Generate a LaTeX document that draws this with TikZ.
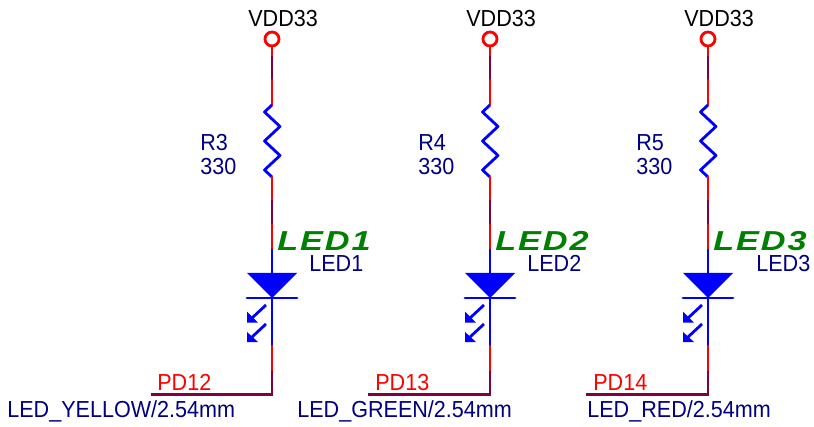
\documentclass[tikz,border=0pt]{standalone}
\usepackage{fontspec}
\setmainfont[FakeStretch=.93]{Liberation Sans}
\newfontfamily\ledfont[FakeStretch=1.25,LetterSpace=7]{Liberation Sans}
\usepackage{tkz-euclide}

\definecolor{netred}{HTML}{FF0000}
\definecolor{netpurple}{HTML}{800040}
\definecolor{partblue}{HTML}{0000FF}
\definecolor{textnavy}{HTML}{000080}
\definecolor{tagGreen}{HTML}{008000}

\tikzset{
  wirered/.style={line width=1.6pt,color=netred},
  wirepurple/.style={line width=1.6pt,color=netpurple},
  partline/.style={line width=1.6pt,color=partblue},
  txt/.style={inner sep=0pt,anchor=base west,font=\fontsize{13.2}{15}\selectfont},
  navytxt/.style={txt,text=textnavy},
  redtxt/.style={txt,text=netred},
  blacktxt/.style={txt,text=black},
  ledtxt/.style={inner sep=0pt,anchor=base west,text=tagGreen,font=\ledfont\fontsize{15.6}{16}\selectfont\bfseries\itshape}
}

\begin{document}
\begin{tikzpicture}[x=.02cm,y=.02cm]
\useasboundingbox (0,0) rectangle (814,426);

% first branch
\tkzDefPoints{272/387/aPin,272/380/aA,272/369/aB,272/346/aC,272/321/aD,264.5/314/aZa,280/299.5/aZb,264.5/285/aZc,280/270.5/aZd,264.5/256/aZe,272/249/aE,272/225/aF,272/201/aG,272/176/aH,272/153/aI,247/153/aL,297/153/aR,272/128/aK,247/128/aM,297/128/aN,272/80/aO,272/55/aP,272/31.5/aQ,151/31.5/aS}

\draw[wirered] (aPin) circle (7);
\tkzDrawSegment[wirered](aA,aB)
\tkzDrawSegment[wirepurple](aB,aC)
\tkzDrawSegment[wirered](aC,aD)
\draw[partline,line join=round] (aD) -- (aZa) -- (aZb) -- (aZc) -- (aZd) -- (aZe) -- (aE);
\tkzDrawSegment[wirered](aE,aF)
\tkzDrawSegment[wirepurple](aF,aG)
\tkzDrawSegment[wirered](aG,aH)
\tkzDrawSegment[partline](aH,aI)
\fill[partblue] (aL) -- (aR) -- (aK) -- cycle;
\tkzDrawSegment[partline](aM,aN)
\tkzDrawSegment[partline](aK,aO)
\draw[partline] (266,121) -- (252,108);
\fill[partblue] (247,114.3) -- (247,103.3) -- (258,103.3) -- cycle;
\draw[partline] (266,102) -- (252,89);
\fill[partblue] (247,94) -- (247,84) -- (258,84) -- cycle;
\tkzDrawSegment[wirered](aO,aP)
\draw[wirepurple] (aP) -- (aQ) -- (aS);

\node[blacktxt] (vddA) at (248,399) {VDD33};
\node[navytxt] (refA) at (200,275) {R3};
\node[navytxt] (valA) at (200,251) {330};
\node[ledtxt] (tagA) at (277,175) {LED1};
\node[navytxt] (partA) at (309,154) {LED1};
\node[redtxt] (netA) at (157,36) {PD12};
\node[navytxt] (nameA) at (7,9) {LED\_YELLOW/2.54mm};

% second branch
\tkzDefPoints{490/387/bPin,490/380/bA,490/369/bB,490/346/bC,490/321/bD,482.5/314/bZa,498/299.5/bZb,482.5/285/bZc,498/270.5/bZd,482.5/256/bZe,490/249/bE,490/225/bF,490/201/bG,490/176/bH,490/153/bI,465/153/bL,515/153/bR,490/128/bK,465/128/bM,515/128/bN,490/80/bO,490/55/bP,490/31.5/bQ,368/31.5/bS}

\draw[wirered] (bPin) circle (7);
\tkzDrawSegment[wirered](bA,bB)
\tkzDrawSegment[wirepurple](bB,bC)
\tkzDrawSegment[wirered](bC,bD)
\draw[partline,line join=round] (bD) -- (bZa) -- (bZb) -- (bZc) -- (bZd) -- (bZe) -- (bE);
\tkzDrawSegment[wirered](bE,bF)
\tkzDrawSegment[wirepurple](bF,bG)
\tkzDrawSegment[wirered](bG,bH)
\tkzDrawSegment[partline](bH,bI)
\fill[partblue] (bL) -- (bR) -- (bK) -- cycle;
\tkzDrawSegment[partline](bM,bN)
\tkzDrawSegment[partline](bK,bO)
\draw[partline] (484,121) -- (470,108);
\fill[partblue] (465,114.3) -- (465,103.3) -- (476,103.3) -- cycle;
\draw[partline] (484,102) -- (470,89);
\fill[partblue] (465,94) -- (465,84) -- (476,84) -- cycle;
\tkzDrawSegment[wirered](bO,bP)
\draw[wirepurple] (bP) -- (bQ) -- (bS);

\node[blacktxt] (vddB) at (466,399) {VDD33};
\node[navytxt] (refB) at (418,275) {R4};
\node[navytxt] (valB) at (418,251) {330};
\node[ledtxt] (tagB) at (495,175) {LED2};
\node[navytxt] (partB) at (527,154) {LED2};
\node[redtxt] (netB) at (375,36) {PD13};
\node[navytxt] (nameB) at (297,9) {LED\_GREEN/2.54mm};

% third branch
\tkzDefPoints{708/387/cPin,708/380/cA,708/369/cB,708/346/cC,708/321/cD,700.5/314/cZa,716/299.5/cZb,700.5/285/cZc,716/270.5/cZd,700.5/256/cZe,708/249/cE,708/225/cF,708/201/cG,708/176/cH,708/153/cI,683/153/cL,733/153/cR,708/128/cK,683/128/cM,733/128/cN,708/80/cO,708/55/cP,708/31.5/cQ,586/31.5/cS}

\draw[wirered] (cPin) circle (7);
\tkzDrawSegment[wirered](cA,cB)
\tkzDrawSegment[wirepurple](cB,cC)
\tkzDrawSegment[wirered](cC,cD)
\draw[partline,line join=round] (cD) -- (cZa) -- (cZb) -- (cZc) -- (cZd) -- (cZe) -- (cE);
\tkzDrawSegment[wirered](cE,cF)
\tkzDrawSegment[wirepurple](cF,cG)
\tkzDrawSegment[wirered](cG,cH)
\tkzDrawSegment[partline](cH,cI)
\fill[partblue] (cL) -- (cR) -- (cK) -- cycle;
\tkzDrawSegment[partline](cM,cN)
\tkzDrawSegment[partline](cK,cO)
\draw[partline] (702,121) -- (688,108);
\fill[partblue] (683,114.3) -- (683,103.3) -- (694,103.3) -- cycle;
\draw[partline] (702,102) -- (688,89);
\fill[partblue] (683,94) -- (683,84) -- (694,84) -- cycle;
\tkzDrawSegment[wirered](cO,cP)
\draw[wirepurple] (cP) -- (cQ) -- (cS);

\node[blacktxt] (vddC) at (684,399) {VDD33};
\node[navytxt] (refC) at (636,275) {R5};
\node[navytxt] (valC) at (636,251) {330};
\node[ledtxt] (tagC) at (713,175) {LED3};
\node[navytxt] (partC) at (756,154) {LED3};
\node[redtxt] (netC) at (593,36) {PD14};
\node[navytxt] (nameC) at (587,9) {LED\_RED/2.54mm};

\end{tikzpicture}
\end{document}
